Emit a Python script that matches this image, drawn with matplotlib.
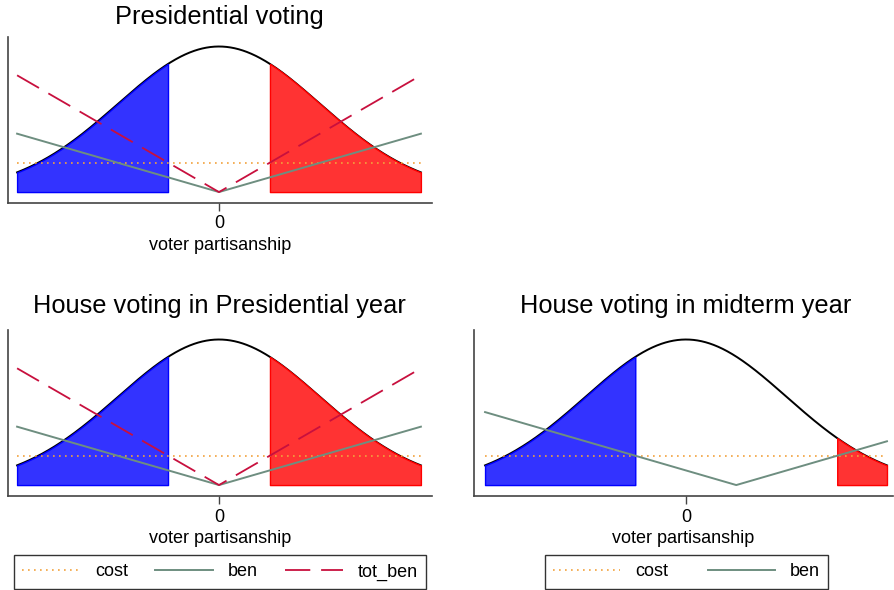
import numpy as np
import matplotlib
matplotlib.use("Agg")
import matplotlib.pyplot as plt
from matplotlib.lines import Line2D

plt.rcParams['font.family'] = ['Liberation Sans', 'DejaVu Sans']

# ---- data / model parameters ----
x_min, x_max = -2.0, 2.0          # voter partisanship range
dens_mean, dens_sd = 0.0, 1.0     # normal density of voters
cost = 0.08                        # cost of voting
ben_slope = 0.08                   # benefit slope per unit of partisanship
tot_ben_slope = 0.16               # total benefit slope (presidential years)
ben_center_pres = 0.0              # indifference point, presidential year
ben_center_mid = 0.5               # indifference point, midterm year
titles = ["Presidential voting", "House voting in Presidential year",
          "House voting in midterm year"]
xtick_vals = [0]
xtick_labels = ["0"]
xlabel = "voter partisanship"
legend_left = ["cost", "ben", "tot_ben"]
legend_right = ["cost", "ben"]

C_BLUE_F, C_BLUE_E = '#3333FF', '#0000FF'
C_RED_F, C_RED_E = '#FF3333', '#FF0000'
C_BEN = '#6E8E80'
C_TOT = '#C8103E'
C_COST = '#F2A23C'

x = np.linspace(x_min, x_max, 801)
dens = np.exp(-0.5 * ((x - dens_mean) / dens_sd) ** 2) / (dens_sd * np.sqrt(2 * np.pi))

W, H = 895, 590
fig = plt.figure(figsize=(W / 100, H / 100), dpi=100)

def ax_at(l, t, r, b):
    return fig.add_axes([l / W, 1 - b / H, (r - l) / W, (b - t) / H])

def panel(ax, center, show_tot, xlim):
    ben = ben_slope * np.abs(x - center)
    votes = ben > cost
    if show_tot:
        tot = tot_ben_slope * np.abs(x - center)
        votes = tot > cost
    ax.plot(x, dens, color='black', lw=1.4, zorder=2)
    left = votes & (x < center)
    right = votes & (x > center)
    ax.fill_between(x, 0, dens, where=left, facecolor=C_BLUE_F, edgecolor=C_BLUE_E,
                    lw=1.0, zorder=3, interpolate=True)
    ax.fill_between(x, 0, dens, where=right, facecolor=C_RED_F, edgecolor=C_RED_E,
                    lw=1.0, zorder=3, interpolate=True)
    ax.plot(x, np.full_like(x, cost), color=C_COST, lw=1.2, ls=(0, (1, 2.6)), zorder=4)
    ax.plot(x, ben, color=C_BEN, lw=1.4, zorder=5)
    if show_tot:
        ax.plot(x, tot, color=C_TOT, lw=1.3, ls=(0, (14, 6)), zorder=6)
    ax.set_xlim(*xlim)
    ax.set_ylim(-0.03, 0.425)
    for s in ['top', 'right']:
        ax.spines[s].set_visible(False)
    for s in ['left', 'bottom']:
        ax.spines[s].set_color('#444444')
        ax.spines[s].set_linewidth(1.2)
    ax.set_yticks([])
    ax.set_xticks(xtick_vals)
    ax.set_xticklabels(xtick_labels, fontsize=13)
    ax.tick_params(axis='x', length=6, width=1.0, color='#444444', pad=3)
    ax.set_xlabel(xlabel, fontsize=13, labelpad=3)
    ax.patch.set_alpha(0)

ax1 = ax_at(8, 37, 432, 203)
panel(ax1, ben_center_pres, True, (-2.09, 2.11))
ax2 = ax_at(8, 330, 432, 496)
panel(ax2, ben_center_pres, True, (-2.09, 2.11))
ax3 = ax_at(474, 330, 893, 496)
panel(ax3, ben_center_mid, False, (-2.11, 2.06))

fig.text(219 / W, 1 - 17 / H, titles[0], fontsize=18.3, ha='center', va='center')
fig.text(219 / W, 1 - 306 / H, titles[1], fontsize=18.3, ha='center', va='center')
fig.text(686 / W, 1 - 306 / H, titles[2], fontsize=18.3, ha='center', va='center')

h_cost = Line2D([], [], color=C_COST, lw=1.2, ls=(0, (1, 2.6)))
h_ben = Line2D([], [], color=C_BEN, lw=1.4)
h_tot = Line2D([], [], color=C_TOT, lw=1.3, ls=(0, (14, 6)))

def leg(handles, labels, l, t, r, b, hl, cs):
    lg = fig.legend(handles, labels, ncol=len(handles), loc='center',
                    bbox_to_anchor=((l + r) / 2 / W, 1 - (t + b) / 2 / H),
                    fontsize=13, handlelength=hl, handletextpad=0.85,
                    columnspacing=cs, frameon=True, fancybox=False,
                    edgecolor='black', borderpad=0.45)
    lg.get_frame().set_linewidth(1.0)
    return lg

leg([h_cost, h_ben, h_tot], legend_left, 12, 555, 428, 589, 3.2, 1.5)
leg([h_cost, h_ben], legend_right, 545, 555, 828, 589, 3.7, 2.2)

fig.savefig('out.png', dpi=100)
